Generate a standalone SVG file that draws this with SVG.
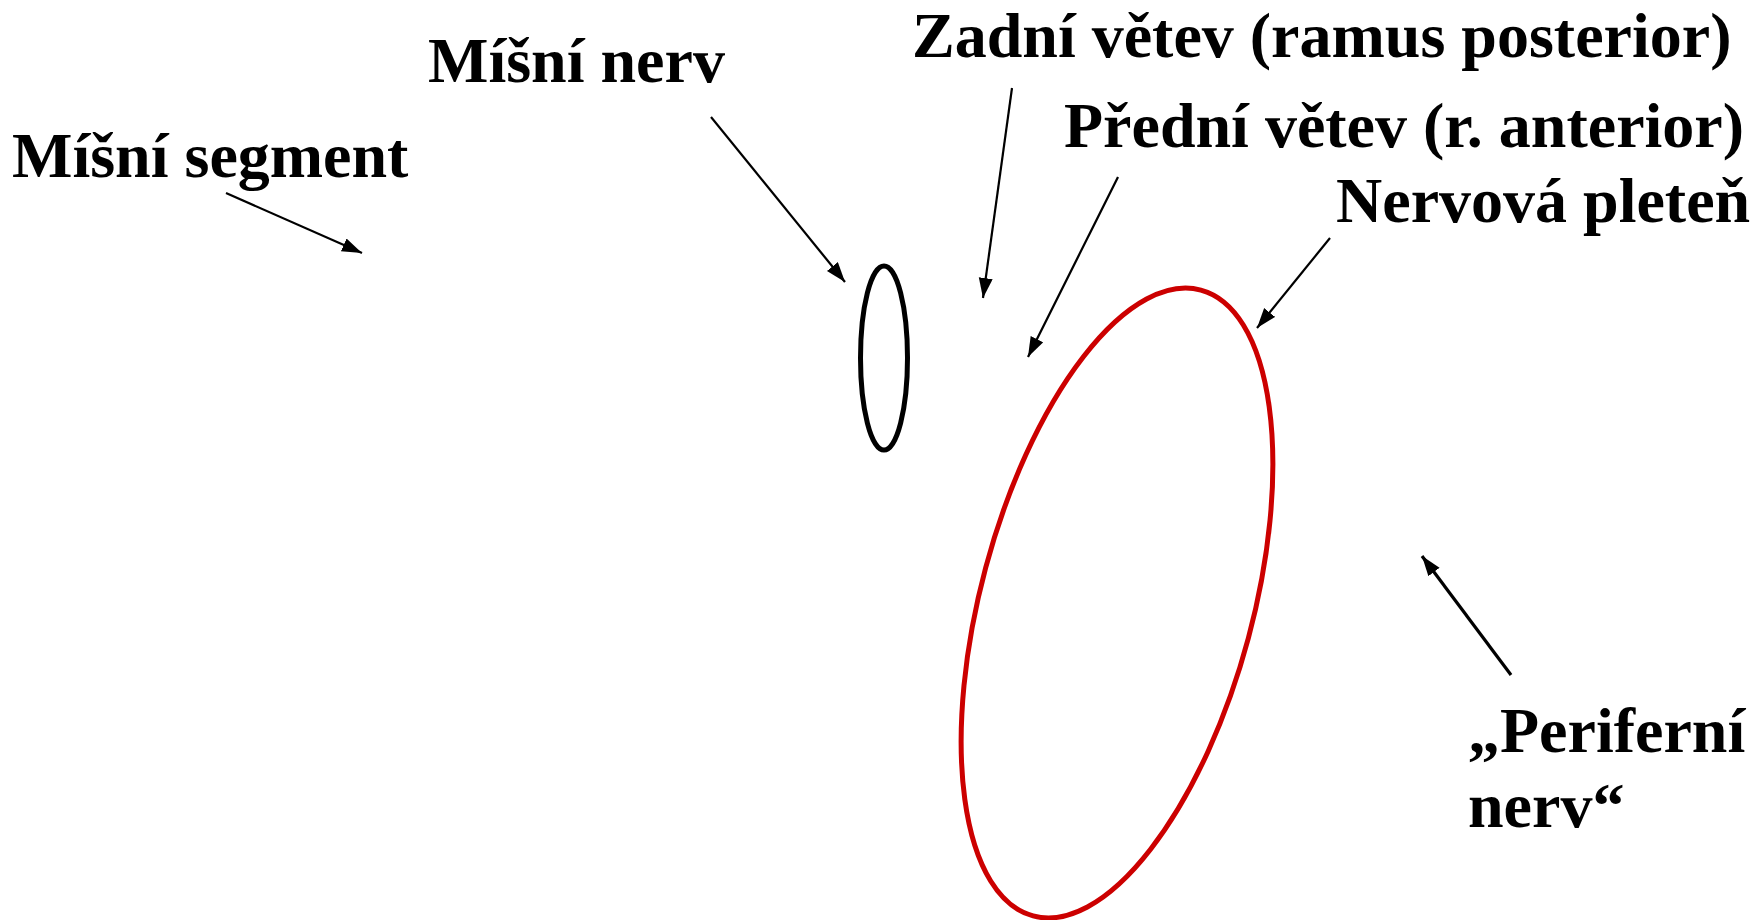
<svg xmlns="http://www.w3.org/2000/svg" width="1762" height="920" viewBox="0 0 1762 920">
<style>
.lbl{font-family:"Liberation Serif","Times New Roman",serif;font-weight:bold;font-size:64px;fill:#000}
.ar{stroke:#000;stroke-width:2.2;fill:none;marker-end:url(#ah)}
</style>
<defs>
<marker id="ah" markerUnits="userSpaceOnUse" markerWidth="22" markerHeight="16" refX="20" refY="7" orient="auto">
<path d="M0,0 L20,7 L0,14 Z" fill="#000"/>
</marker>
</defs>
<rect width="1762" height="920" fill="#fff"/>
<g id="connectors">
<line class="ar" x1="226" y1="193" x2="362" y2="253"/>
<line class="ar" x1="711" y1="117" x2="845" y2="282"/>
<line class="ar" x1="1012" y1="88" x2="983" y2="298"/>
<line class="ar" x1="1118" y1="177" x2="1028" y2="357"/>
<line class="ar" x1="1330" y1="238" x2="1257" y2="328"/>
<line class="ar" style="stroke-width:3.2" x1="1511" y1="675" x2="1422" y2="556"/>
</g>
<g id="spinal-nerve-shape">
<ellipse cx="884" cy="358" rx="23.5" ry="92" fill="none" stroke="#000" stroke-width="5"/>
</g>
<g id="plexus-shape">
<ellipse cx="0" cy="0" rx="136" ry="324" transform="translate(1117,603) rotate(15)" fill="none" stroke="#CC0000" stroke-width="5"/>
</g>
<g id="n-segment"><text class="lbl" x="12" y="177">Míšní segment</text></g>
<g id="n-nerv"><text class="lbl" x="428" y="82">Míšní nerv</text></g>
<g id="n-zadni"><text class="lbl" x="912" y="57">Zadní větev (ramus posterior)</text></g>
<g id="n-predni"><text class="lbl" x="1064" y="147">Přední větev (r. anterior)</text></g>
<g id="n-pleten"><text class="lbl" x="1336" y="222">Nervová pleteň</text></g>
<g id="n-periferni"><text class="lbl" x="1468" y="752">„Periferní</text><text class="lbl" x="1468" y="827">nerv“</text></g>
</svg>
